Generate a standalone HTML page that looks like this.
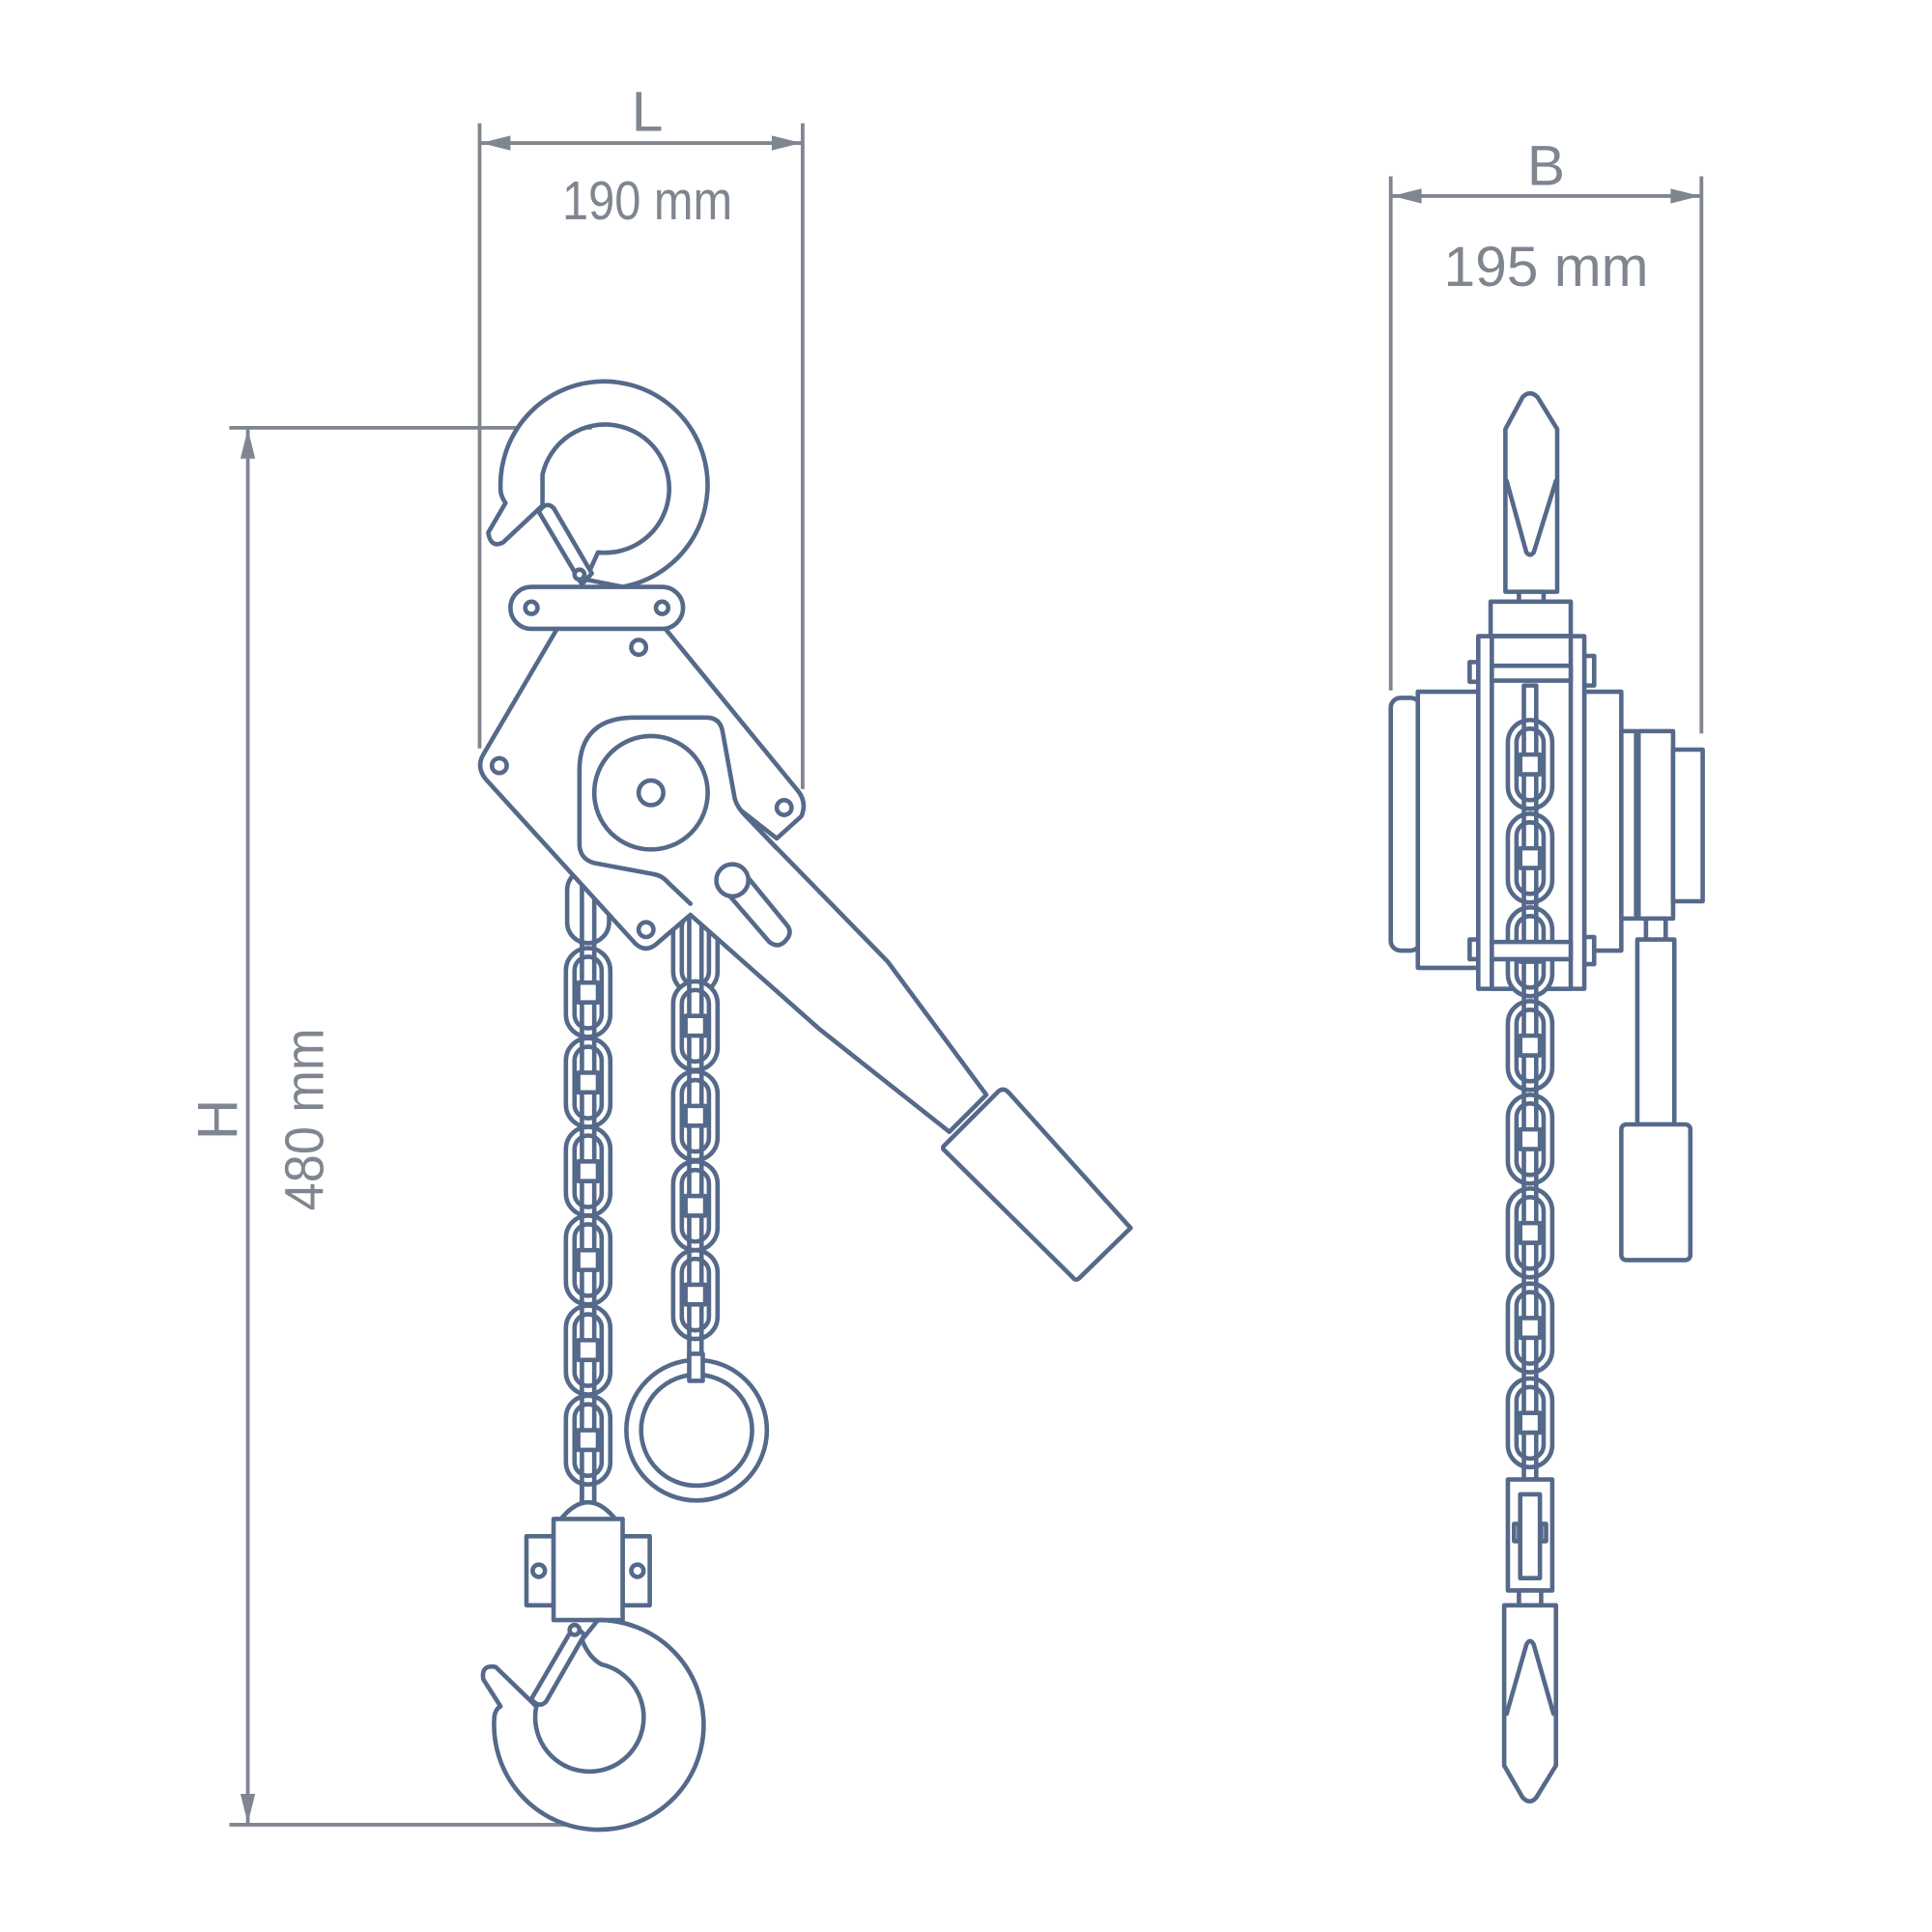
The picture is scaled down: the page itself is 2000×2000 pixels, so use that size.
<!DOCTYPE html>
<html><head><meta charset="utf-8"><style>
html,body{margin:0;padding:0;background:#fff;}
svg{display:block;}
text{font-family:"Liberation Sans",sans-serif;fill:#80868f;}
</style></head><body>
<svg width="2000" height="2000" viewBox="0 0 1567 1567" xmlns="http://www.w3.org/2000/svg">
<defs>
<g id="oval"><rect x="-18" y="-36" width="36" height="72" rx="18"/><rect x="-11" y="-29" width="22" height="58" rx="11"/></g>
<g id="bar"><rect x="-8" y="-8" width="16" height="16"/></g>
</defs>
<g stroke="#80868f" stroke-width="3" fill="none">
<line x1="389" y1="100" x2="389" y2="607"/><line x1="651" y1="100" x2="651" y2="640"/>
<line x1="390" y1="116" x2="650" y2="116"/>
<line x1="186" y1="347" x2="480" y2="347"/><line x1="186" y1="1480" x2="480" y2="1480"/>
<line x1="201" y1="348" x2="201" y2="1479"/>
<line x1="1128" y1="143" x2="1128" y2="560"/><line x1="1380" y1="143" x2="1380" y2="595"/>
<line x1="1129" y1="159" x2="1379" y2="159"/>
</g>
<g fill="#80868f">
<polygon points="390,116 414,110 414,122"/><polygon points="650,116 626,110 626,122"/>
<polygon points="1129,159 1153,153 1153,165"/><polygon points="1379,159 1355,153 1355,165"/>
<polygon points="201,348 195,372 207,372"/><polygon points="201,1479 195,1455 207,1455"/>
</g>
<text x="525" y="106" font-size="46" text-anchor="middle">L</text>
<text x="525" y="178" font-size="44" text-anchor="middle" textLength="138" lengthAdjust="spacingAndGlyphs">190 mm</text>
<text x="1254" y="150" font-size="46" text-anchor="middle">B</text>
<text x="1254" y="232" font-size="46" text-anchor="middle">195 mm</text>
<text transform="translate(192,908) rotate(-90)" font-size="46" text-anchor="middle">H</text>
<text transform="translate(262,908) rotate(-90)" font-size="44" text-anchor="middle" textLength="148" lengthAdjust="spacingAndGlyphs">480 mm</text>

<g stroke="#55698a" stroke-width="3.6" fill="#fff" stroke-linejoin="round" stroke-linecap="round">
<g transform="translate(477,0)">
<rect x="-5" y="705" width="10" height="525" />
<rect x="-17" y="705" width="34" height="60" rx="17"/>
<use href="#oval" y="805"/><use href="#oval" y="878"/><use href="#oval" y="950"/><use href="#oval" y="1022"/><use href="#oval" y="1095"/><use href="#oval" y="1168"/>
<rect x="-5" y="705" width="10" height="525" fill="none"/>
<use href="#bar" y="805"/><use href="#bar" y="878"/><use href="#bar" y="950"/><use href="#bar" y="1022"/><use href="#bar" y="1095"/><use href="#bar" y="1168"/>
</g>
<g transform="translate(564,0)">
<use href="#oval" y="770"/><use href="#oval" y="832"/><use href="#oval" y="905"/><use href="#oval" y="978"/><use href="#oval" y="1050"/>
<rect x="-5" y="740" width="10" height="380" fill="none"/>
<use href="#bar" y="832"/><use href="#bar" y="905"/><use href="#bar" y="978"/><use href="#bar" y="1050"/>
</g>
<circle cx="565" cy="1160" r="57"/><circle cx="565" cy="1160" r="45"/>
<rect x="559" y="1098" width="11" height="22"/>
<path d="M406 397 A84 84 0 1 1 505 476 L475 470 L485 448 A52 52 0 1 0 440 385 L440 410 L408 440 Q398 445 396 432 L410 408 Q406 402 406 397 Z"/>
<path d="M437 415 Q443 406 449 412 L480 465 L472 474 Z"/>
<circle cx="470" cy="466" r="4"/>
<path d="M453 508 L392 612 Q386 622 394 632 L515 765 Q523 773 532 766 L560 742 L665 835 L770 918 L800 888 L720 780 L598 655 L630 680 L650 662 Q655 650 646 640 L538 508 Z"/>
<path d="M765 930 L810 885 Q814 882 818 886 L917 996 L875 1037 Q872 1039 870 1036 L765 932 Z"/>
<rect x="414" y="476" width="140" height="34" rx="17"/>
<circle cx="431" cy="493" r="5"/><circle cx="537" cy="493" r="5"/>
<path d="M470 625 Q470 582 515 582 L573 582 Q584 582 586 593 L596 648 Q598 655 605 662 L630 688"/>
<path d="M470 625 L470 686 Q471 697 482 700 L530 709 Q537 710 542 716 L560 733"/>
<circle cx="528" cy="643" r="46"/><circle cx="528" cy="643" r="10"/>
<circle cx="518" cy="525" r="6"/><circle cx="405" cy="621" r="6"/><circle cx="636" cy="655" r="6"/><circle cx="524" cy="754" r="6"/>
<path d="M586 720 L624 764 Q632 770 638 762 Q643 756 638 750 L602 706 Z"/>
<circle cx="594" cy="714" r="13"/>
<path d="M455 1232 Q477 1205 499 1232"/>
<rect x="427" y="1246" width="22" height="56"/><rect x="505" y="1246" width="22" height="56"/>
<rect x="449" y="1232" width="56" height="82"/>
<circle cx="437" cy="1274" r="5"/><circle cx="517" cy="1274" r="5"/>
<path d="M485 1314 A85 85 0 1 1 401 1392 Q402 1386 406 1384 L392 1362 Q390 1350 402 1352 L435 1384 A44 44 0 1 0 488 1350 Q478 1345 472 1330 Z"/>
<path d="M466 1318 L474 1326 L443 1380 Q437 1386 431 1378 Z"/>
<circle cx="466" cy="1322" r="4"/>

<path d="M1221 348 L1235 322 Q1241 316 1247 322 L1263 348 L1263 480 L1221 480 Z"/>
<path d="M1222 390 L1238 448 Q1241 452 1244 448 L1262 390" fill="none"/>
<rect x="1232" y="480" width="20" height="8"/>
<rect x="1209" y="488" width="65" height="28"/>
<rect x="1128" y="566" width="24" height="205" rx="8"/>
<rect x="1150" y="561" width="49" height="224"/>
<rect x="1285" y="561" width="30" height="210"/>
<rect x="1315" y="593" width="12" height="152"/>
<rect x="1329" y="593" width="28" height="152"/>
<rect x="1357" y="608" width="24" height="123"/>
<rect x="1335" y="745" width="16" height="18"/>
<rect x="1328" y="762" width="30" height="150"/>
<rect x="1315" y="912" width="56" height="110" rx="4"/>
<rect x="1192" y="537" width="8" height="16"/><rect x="1285" y="532" width="8" height="24"/>
<rect x="1192" y="762" width="8" height="16"/><rect x="1285" y="760" width="8" height="22"/>
<rect x="1199" y="516" width="86" height="286"/>
<rect x="1210" y="516" width="64" height="286"/>
<rect x="1210" y="540" width="64" height="12"/>
<g transform="translate(1241,0)">
<use href="#oval" y="620"/><use href="#oval" y="696"/><use href="#oval" y="772"/><use href="#oval" y="848"/><use href="#oval" y="924"/><use href="#oval" y="1000"/><use href="#oval" y="1077"/><use href="#oval" y="1154"/>
<rect x="-5" y="556" width="10" height="644" fill="none"/>
<use href="#bar" y="620"/><use href="#bar" y="696"/><use href="#bar" y="772"/><use href="#bar" y="848"/><use href="#bar" y="924"/><use href="#bar" y="1000"/><use href="#bar" y="1077"/><use href="#bar" y="1154"/>
</g>
<rect x="1210" y="764" width="64" height="14"/>
<rect x="1223" y="1200" width="36" height="90"/>
<rect x="1233" y="1212" width="16" height="68"/>
<rect x="1228" y="1236" width="4" height="14"/><rect x="1250" y="1236" width="4" height="14"/>
<rect x="1232" y="1290" width="18" height="13"/>
<path d="M1220 1302 L1262 1302 L1262 1432 L1246 1458 Q1241 1464 1235 1458 L1220 1432 Z"/>
<path d="M1222 1390 L1238 1334 Q1241 1328 1244 1334 L1260 1390" fill="none"/>
</g>
</svg>
</body></html>
